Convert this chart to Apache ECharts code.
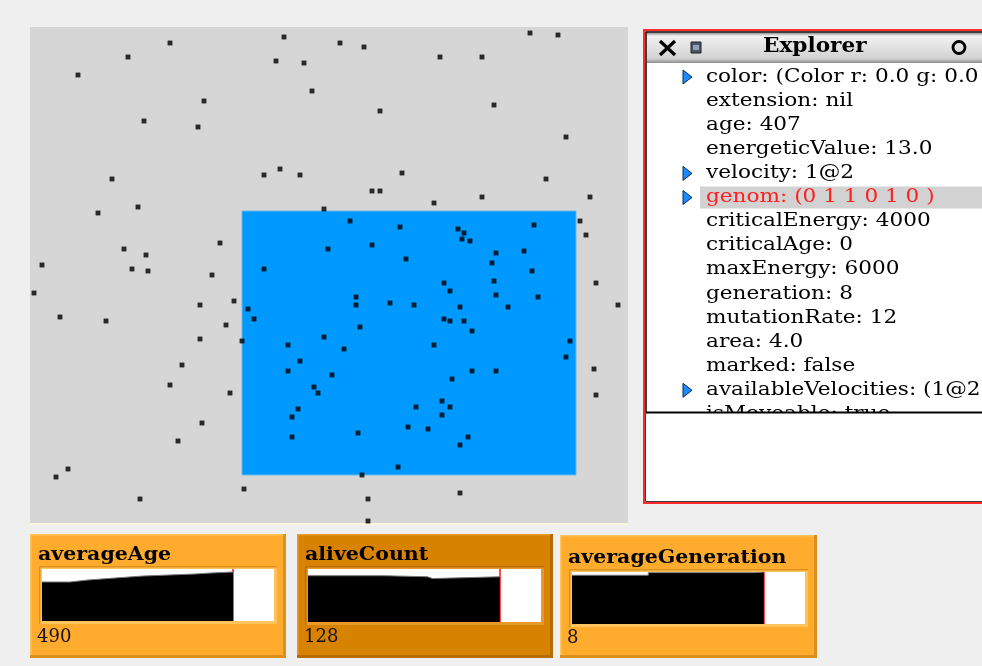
<!DOCTYPE html>
<html><head><meta charset="utf-8">
<script src="https://cdn.jsdelivr.net/npm/echarts@6/dist/echarts.min.js"></script>
<style>html,body{margin:0;padding:0;background:#efefef;}#c{width:982px;height:666px;}</style>
</head><body><div id="c"></div>
<script>
// ---- simulation world (world units, origin top-left) ----
const worldSize = [598, 496];
const zone = [[212, 184], [546, 448]];
const creatures = [
  [254,10],[140,16],[98,30],[246,34],[274,36],[48,48],[282,64],[174,74],[114,94],[168,100],
  [250,142],[234,148],[270,148],[82,152],[294,182],[108,180],[68,186],[190,216],[298,222],[94,222],
  [116,228],[12,238],[102,242],[118,244],[234,242],[182,248],
  [500,6],[528,8],[310,16],[334,20],[410,30],[452,30],[464,78],[350,84],[536,110],[372,146],
  [516,152],[342,164],[350,164],[452,170],[560,170],[404,176],[320,194],[550,194],[370,200],[504,198],
  [428,202],[434,206],[432,212],[440,214],[556,208],[342,218],[376,232],[466,226],[494,224],[462,236],[502,244],
  [4,266],[170,278],[204,274],[218,282],[30,290],[76,294],[224,292],[196,298],[170,312],[212,314],
  [258,318],[294,310],[152,338],[270,334],[258,344],[302,348],[140,358],[284,360],[288,366],[200,366],
  [268,382],[262,390],[172,396],[262,410],[148,414],[38,442],[26,450],[214,462],[110,472],
  [464,254],[566,256],[414,256],[420,264],[466,268],[508,270],[326,270],[326,278],[360,276],[384,278],
  [430,280],[478,280],[588,278],[414,292],[420,294],[434,294],[330,300],[442,304],[540,314],[314,322],
  [404,318],[536,330],[564,342],[442,344],[466,344],[422,352],[566,368],[412,374],[386,380],[420,380],
  [412,388],[378,400],[398,402],[328,406],[438,410],[430,418],[368,440],[332,448],[430,466],[338,472],[338,494]
];

// ---- explorer rows ----
const explorerTitle = 'Explorer';
const explorerRows = [
  'color: (Color r: 0.0 g: 0.0 b: 0.0)',
  'extension: nil',
  'age: 407',
  'energeticValue: 13.0',
  'velocity: 1@2',
  'genom: (0 1 1 0 1 0 )',
  'criticalEnergy: 4000',
  'criticalAge: 0',
  'maxEnergy: 6000',
  'generation: 8',
  'mutationRate: 12',
  'area: 4.0',
  'marked: false',
  'availableVelocities: (1@2 2@1 )',
  'isMoveable: true'
];
const expandableRows = [0, 4, 5, 13];
const selectedRow = 5;

// ---- monitor graphs (time, value) ----
const ageNames = 'averageAge';
const ageSteps = [[0,390],[28,410],[46,430],[73,450],[101,470],[153,480],[169,490],[191,490]];
const ageCurrent = '490';
const aliveNames = 'aliveCount';
const aliveSteps = [[0,131],[76,128],[119,123],[124,128],[191,128]];
const aliveCurrent = '128';
const genNames = 'averageGeneration';
const genSteps = [[0,7.5],[76,7.9],[182,8.0],[191,8.0]];
const genCurrent = '8';
const nowTime = 191;
const timeSpan = 232;

const SERIF = '"DejaVu Serif", "Liberation Serif", serif';

const panels = [
  {title: ageNames, value: ageCurrent, steps: ageSteps, yMax: 520,
   box: [30, 534, 256, 124], color: '#ffab2e', light: '#ffc35e', dark: '#dc901c', inset: '#e0901a',
   grid: [42, 569, 232, 52], tScale: 1.14},
  {title: aliveNames, value: aliveCurrent, steps: aliveSteps, yMax: 150,
   box: [297, 534, 256, 124], color: '#d78200', light: '#e8992a', dark: '#b56c00', inset: '#b86e00',
   grid: [308, 569, 233, 53], tScale: 1.14},
  {title: genNames, value: genCurrent, steps: genSteps, yMax: 8,
   box: [560, 535, 257, 123], color: '#ffab2e', light: '#ffc35e', dark: '#dc901c', inset: '#e0901a',
   grid: [572, 572, 233, 52], tScale: 1.14}
];

const graphics = [];
// simulation background
graphics.push({type:'rect', z:0, shape:{x:30, y:27, width:598, height:496}, style:{fill:'#d6d6d6'}});
graphics.push({type:'rect', z:0, shape:{x:30, y:523, width:598, height:2}, style:{fill:'#fbf8dc'}});

// explorer window
const EX = 644, EY = 30, EB = 503;
graphics.push({type:'rect', z:1, shape:{x:EX, y:EY, width:400, height:EB-EY}, style:{fill:'#ffffff', stroke:'#ff2a2a', lineWidth:2}});
graphics.push({type:'rect', z:1, shape:{x:EX+2, y:EY+2, width:400, height:EB-EY-4}, style:{fill:'#ffffff', stroke:'#000', lineWidth:1.5}});
// title bar
graphics.push({type:'rect', z:2, shape:{x:647, y:33, width:340, height:30},
  style:{fill:new echarts.graphic.LinearGradient(0,0,0,1,[{offset:0,color:'#9a9a9a'},{offset:0.1,color:'#f2f2f2'},{offset:0.85,color:'#d2d2d2'},{offset:1,color:'#8c8c8c'}])}});
graphics.push({type:'line', z:3, shape:{x1:660, y1:41, x2:675, y2:55}, style:{stroke:'#000', lineWidth:3.2}});
graphics.push({type:'line', z:3, shape:{x1:675, y1:41, x2:660, y2:55}, style:{stroke:'#000', lineWidth:3.2}});
graphics.push({type:'rect', z:3, shape:{x:691, y:42, width:10, height:11}, style:{fill:'#4a5668', stroke:'#222', lineWidth:1}});
graphics.push({type:'rect', z:3, shape:{x:693, y:45, width:6, height:5}, style:{fill:'#8fa0b8'}});
graphics.push({type:'circle', z:3, shape:{cx:959, cy:47.5, r:6}, style:{fill:'none', stroke:'#000', lineWidth:2.8}});
graphics.push({type:'text', z:3, x:763, y:47, scaleX:1.08,
  style:{text:explorerTitle, font:'bold 20px ' + SERIF, fill:'#000', align:'left', verticalAlign:'middle'}});
// selected row highlight
const rowY0 = 77, rowH = 24.1;
graphics.push({type:'rect', z:2, shape:{x:700, y:rowY0 + selectedRow*rowH - 11, width:290, height:22}, style:{fill:'#d2d2d2'}});
explorerRows.forEach(function(t, i){
  const cy = rowY0 + i*rowH;
  graphics.push({type:'text', z:3, x:706, y:cy, scaleX:1.2,
    style:{text:t, font:'18px ' + SERIF, fill: i === selectedRow ? '#ff2020' : '#000', align:'left', verticalAlign:'middle'}});
  if (expandableRows.indexOf(i) >= 0) {
    graphics.push({type:'polygon', z:3, shape:{points:[[683, cy-7],[692, cy],[683, cy+7]]}, style:{fill:'#1a8cff', stroke:'#0a2a55', lineWidth:1}});
  }
});
// lower pane (covers clipped last row)
graphics.push({type:'rect', z:6, shape:{x:646, y:412, width:340, height:89}, style:{fill:'#ffffff'}});
graphics.push({type:'rect', z:7, shape:{x:646, y:411.5, width:340, height:2}, style:{fill:'#000'}});

// monitor panels
panels.forEach(function(p){
  const [x, y, w, h] = p.box;
  graphics.push({type:'rect', z:0, shape:{x:x, y:y, width:w, height:h}, style:{fill:p.dark}});
  graphics.push({type:'rect', z:0, shape:{x:x, y:y, width:w-3, height:h-3}, style:{fill:p.light}});
  graphics.push({type:'rect', z:0, shape:{x:x+1.5, y:y+1.5, width:w-4.5, height:h-4.5}, style:{fill:p.color}});
  const [gx, gy, gw, gh] = p.grid;
  graphics.push({type:'rect', z:0, shape:{x:gx-3, y:gy-3, width:gw+6, height:gh+6}, style:{fill:p.inset}});
  graphics.push({type:'rect', z:0, shape:{x:gx-1.5, y:gy-1.5, width:gw+4.5, height:gh+4.5}, style:{fill:p.light}});
  graphics.push({type:'rect', z:0, shape:{x:gx, y:gy, width:gw, height:gh}, style:{fill:'#ffffff'}});
  graphics.push({type:'text', z:1, x:x+8, y:gy-14, scaleX:p.tScale,
    style:{text:p.title, font:'bold 18px ' + SERIF, fill:'#000', align:'left', verticalAlign:'middle'}});
  graphics.push({type:'text', z:1, x:x+7, y:y+103, scaleX:1.0,
    style:{text:p.value, font:'18px ' + SERIF, fill:'#111', align:'left', verticalAlign:'middle'}});
});

const grids = [{left:30, top:27, width:598, height:496, containLabel:false}];
const xAxes = [{gridIndex:0, type:'value', min:0, max:worldSize[0], show:false}];
const yAxes = [{gridIndex:0, type:'value', min:0, max:worldSize[1], inverse:true, show:false}];
const series = [{
  type:'scatter', xAxisIndex:0, yAxisIndex:0, data:creatures, symbol:'rect', symbolSize:4.5,
  itemStyle:{color:'#000', borderColor:'#000', borderWidth:0.3}, silent:true, z:5,
  markArea:{silent:true, label:{show:false}, itemStyle:{color:'#0099ff', opacity:1, borderColor:'#66b8f0', borderWidth:1},
    data:[[{coord:zone[0]}, {coord:zone[1]}]]}
}];
panels.forEach(function(p, i){
  const [gx, gy, gw, gh] = p.grid;
  grids.push({left:gx, top:gy, width:gw, height:gh, containLabel:false});
  xAxes.push({gridIndex:i+1, type:'value', min:0, max:timeSpan, show:false});
  yAxes.push({gridIndex:i+1, type:'value', min:0, max:p.yMax, show:false});
  series.push({type:'line', xAxisIndex:i+1, yAxisIndex:i+1, data:p.steps, step:'end', symbol:'none', silent:true, z:5,
    lineStyle:{color:'#777', width:1}, areaStyle:{color:'#000', opacity:1},
    markLine:{silent:true, symbol:'none', label:{show:false}, lineStyle:{color:'#ff1010', width:1.5, type:'solid'},
      data:[{xAxis:nowTime}]}});
});

const chart = echarts.init(document.getElementById('c'), null, {renderer:'canvas'});
chart.setOption({
  backgroundColor:'#efefef',
  animation:false,
  grid:grids, xAxis:xAxes, yAxis:yAxes, series:series,
  graphic:{elements:graphics}
});
</script></body></html>
